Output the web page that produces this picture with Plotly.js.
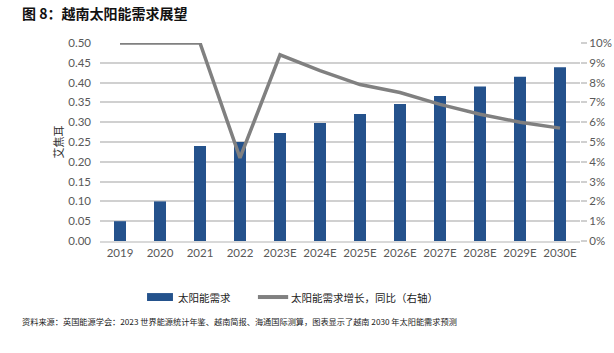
<!DOCTYPE html>
<html><head><meta charset="utf-8">
<script src="https://cdn.plot.ly/plotly-3.0.1.min.js"></script>
<style>html,body{margin:0;padding:0;background:#fff}#chart{width:614px;height:353px}</style>
</head><body><div id="chart"></div>
<script>
const categories = ["2019","2020","2021","2022","2023E","2024E","2025E","2026E","2027E","2028E","2029E","2030E"];
const demand = [0.05,0.10,0.24,0.25,0.273,0.298,0.321,0.346,0.366,0.39,0.415,0.439];
const growth = [0.10,0.10,0.10,0.042,0.094,0.086,0.079,0.075,0.069,0.064,0.060,0.057];
const leftTicks = [0,0.05,0.10,0.15,0.20,0.25,0.30,0.35,0.40,0.45,0.50];
const rightTicks = [0,0.01,0.02,0.03,0.04,0.05,0.06,0.07,0.08,0.09,0.10];
const seriesNames = ['太阳能需求','太阳能需求增长，同比（右轴）'];
const seriesColors = ['#24528C','#808080'];

const cjk = '"Noto Sans CJK SC", sans-serif';
const num = 'Lato, "Open Sans", sans-serif';

const traces = [
  {type:'bar', x:categories, y:demand, name:seriesNames[0], marker:{color:seriesColors[0]}, yaxis:'y'},
  {type:'scatter', mode:'lines', x:categories, y:growth, name:seriesNames[1], line:{color:seriesColors[1], width:3.5}, yaxis:'y2'}
];

const layout = {
  width:614, height:353,
  margin:{l:100, r:34, t:43, b:112},
  paper_bgcolor:'#fff', plot_bgcolor:'#fff',
  bargap:0.7,
  showlegend:false,
  title:{text:'<b>图 8：越南太阳能需求展望</b>', x:22/614, xanchor:'left', xref:'container', y:1-14/353, yanchor:'middle', yref:'container', font:{family:cjk, size:14, color:'#111'}},
  xaxis:{type:'category', tickfont:{family:num, size:11.5, color:'#595959'}, showgrid:false, zeroline:false, showline:true, linecolor:'#d9d9d9', linewidth:2, ticks:'', fixedrange:true},
  yaxis:{range:[0,0.5], tickvals:leftTicks, ticktext:leftTicks.map(v=>v.toFixed(2)), tickfont:{family:num, size:11.5, color:'#595959'}, showgrid:true, gridcolor:'#d0d0d0', gridwidth:2, zeroline:false, ticks:'', ticklen:0, ticklabelstandoff:8,
    title:{text:'艾焦耳', font:{family:cjk, size:11, color:'#333'}, standoff:2}},
  yaxis2:{overlaying:'y', side:'right', range:[0,0.1], tickvals:rightTicks, ticktext:rightTicks.map(v=>Math.round(v*100)+'%'), tickfont:{family:num, size:11.5, color:'#595959'}, showgrid:false, zeroline:false, ticks:'outside', ticklen:6, tickcolor:'#d0d0d0', tickwidth:2},
  shapes:[
    {type:'rect', xref:'paper', yref:'paper', x0:0.098, x1:0.152, y0:-0.263, y1:-0.303, fillcolor:seriesColors[0], line:{width:0}},
    {type:'line', xref:'paper', yref:'paper', x0:0.329, x1:0.392, y0:-0.283, y1:-0.283, line:{color:seriesColors[1], width:4}}
  ],
  annotations:[
    {xref:'paper', yref:'paper', x:0.158, y:-0.283, xanchor:'left', yanchor:'middle', showarrow:false, text:seriesNames[0], font:{family:cjk, size:10.5, color:'#222'}},
    {xref:'paper', yref:'paper', x:0.394, y:-0.283, xanchor:'left', yanchor:'middle', showarrow:false, text:seriesNames[1], font:{family:cjk, size:10.5, color:'#222'}},
    {xref:'paper', yref:'paper', x:-0.167, y:-0.404, xanchor:'left', yanchor:'middle', showarrow:false, text:'资料来源：英国能源学会：2023 世界能源统计年鉴、越南简报、海通国际测算，图表显示了越南 2030 年太阳能需求预测', font:{family:cjk, size:8.2, color:'#222'}}
  ]
};
Plotly.newPlot('chart', traces, layout, {displayModeBar:false, staticPlot:true});
</script></body></html>
